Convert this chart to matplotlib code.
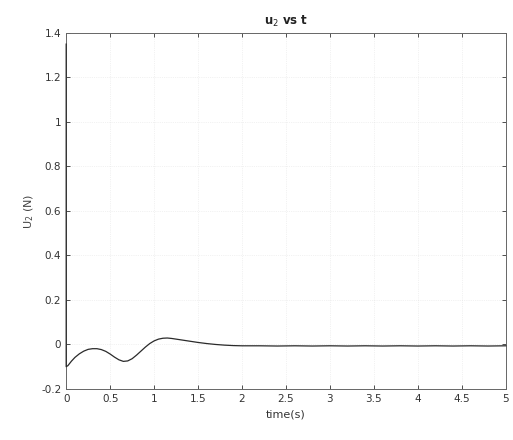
import numpy as np
import matplotlib.pyplot as plt

# u2 control input
t = [0.0, 0.0, 0.02, 0.06, 0.1, 0.15, 0.2, 0.25, 0.3, 0.35, 0.4, 0.45, 0.5,
     0.55, 0.6, 0.65, 0.7, 0.75, 0.8, 0.85, 0.9, 0.95, 1.0, 1.05, 1.1, 1.15,
     1.2, 1.3, 1.4, 1.5, 1.6, 1.7, 1.8, 1.9, 2.0, 2.2, 2.4, 2.6, 2.8, 3.0,
     3.2, 3.4, 3.6, 3.8, 4.0, 4.2, 4.4, 4.6, 4.8, 5.0]
u2 = [1.35, -0.10, -0.095, -0.075, -0.058, -0.042, -0.030, -0.022, -0.019,
      -0.019, -0.023, -0.031, -0.043, -0.057, -0.069, -0.076, -0.074, -0.064,
      -0.048, -0.030, -0.012, 0.004, 0.016, 0.024, 0.028, 0.029, 0.027, 0.021,
      0.015, 0.009, 0.004, 0.000, -0.003, -0.005, -0.006, -0.006, -0.007,
      -0.006, -0.007, -0.006, -0.007, -0.006, -0.007, -0.006, -0.007, -0.006,
      -0.007, -0.006, -0.007, -0.006]

xticks = [0, 0.5, 1, 1.5, 2, 2.5, 3, 3.5, 4, 4.5, 5]
yticks = [-0.2, 0, 0.2, 0.4, 0.6, 0.8, 1, 1.2, 1.4]

fig = plt.figure(figsize=(5.13, 4.40), dpi=100)
ax = fig.add_axes([0.129, 0.116, 0.857, 0.809])

ax.plot(t, u2, color='#2a2a2a', linewidth=0.9, clip_on=False, zorder=5)

ax.set_xlim(0, 5)
ax.set_ylim(-0.2, 1.4)
ax.set_xticks(xticks)
ax.set_xticklabels(['0', '0.5', '1', '1.5', '2', '2.5', '3', '3.5', '4', '4.5', '5'])
ax.set_yticks(yticks)
ax.set_yticklabels(['-0.2', '0', '0.2', '0.4', '0.6', '0.8', '1', '1.2', '1.4'])
ax.tick_params(direction='in', length=3, width=0.6, labelsize=7.5,
               colors='#333333', top=True, right=True)
ax.grid(True, linestyle=':', linewidth=0.5, color='#cccccc', alpha=0.5)
for s in ax.spines.values():
    s.set_linewidth(0.7)
    s.set_color('#666666')

ax.set_title('u$_2$ vs t', fontsize=8.5, fontweight='bold', color='#222222')
ax.set_xlabel('time(s)', fontsize=8, color='#333333')
ax.set_ylabel('U$_2$ (N)', fontsize=8, color='#444444')

plt.savefig('out.png', dpi=100)
